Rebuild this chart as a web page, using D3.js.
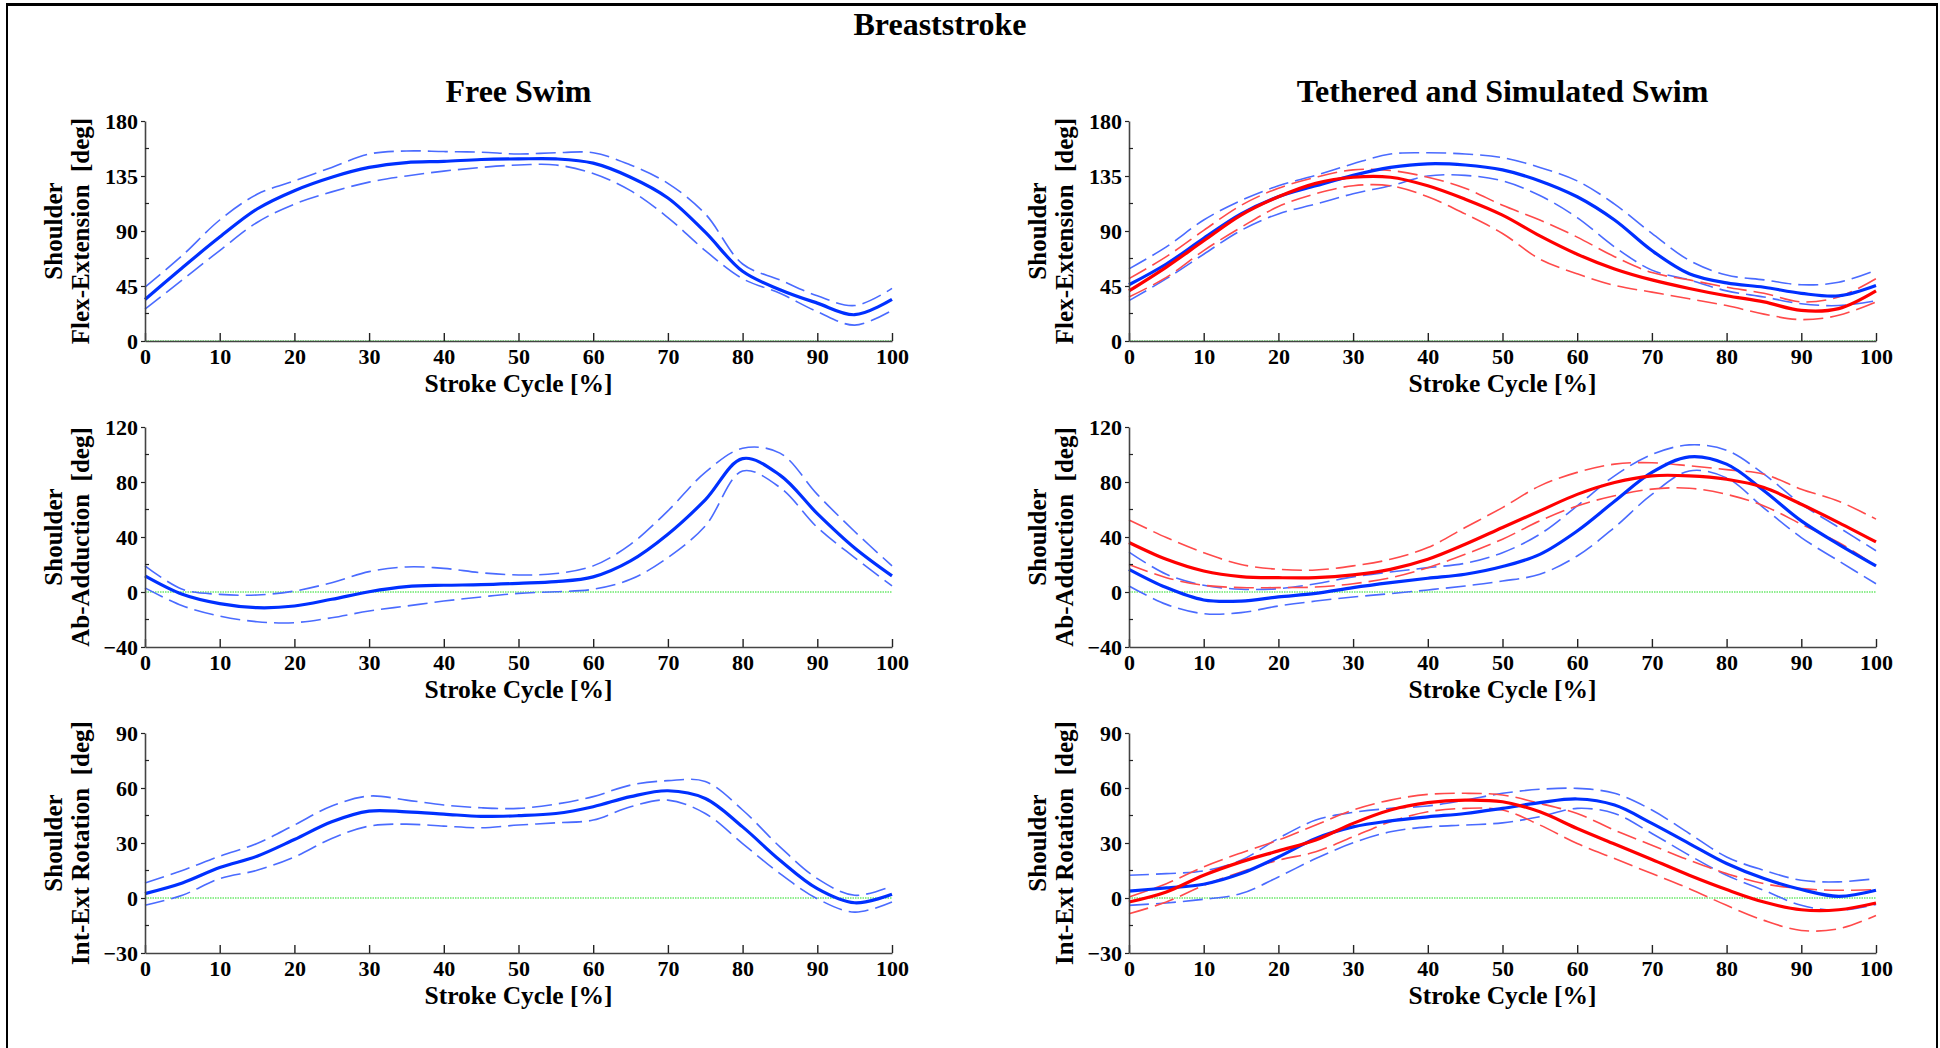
<!DOCTYPE html>
<html>
<head>
<meta charset="utf-8">
<script src="https://cdn.jsdelivr.net/npm/d3@7"></script>
<style>
  html, body { margin: 0; padding: 0; background: #fff; }
  svg text { font-family: "Liberation Serif", "Times New Roman", serif; font-weight: bold; fill: #000; }
</style>
</head>
<body>
<svg id="fig" width="1940" height="1048"></svg>
<script>
// Stroke cycle sampling points [%]
const cycle = [0, 5, 10, 15, 20, 25, 30, 35, 40, 45, 50, 55, 60, 65, 70, 75, 80, 85, 90, 95, 100];

// Axis ticks
const xTicks = [0, 10, 20, 30, 40, 50, 60, 70, 80, 90, 100];
const flexTicks = [0, 45, 90, 135, 180];
const abdTicks = [-40, 0, 40, 80, 120];
const rotTicks = [-30, 0, 30, 60, 90];

// Titles and labels
const mainTitle = "Breaststroke";
const columnTitles = ["Free Swim", "Tethered and Simulated Swim"];
const xLabel = "Stroke Cycle [%]";
const yLabelTop = "Shoulder";
const yLabels = ["Flex-Extension  [deg]", "Ab-Adduction  [deg]", "Int-Ext Rotation  [deg]"];

// Free swim – flexion/extension (mean, mean ± SD)
const freeFlexMean  = [34, 60, 85, 108, 123, 134, 142, 146, 147, 148.5, 149, 149, 145.5, 134, 117, 89, 57, 42, 31, 21.5, 34];
const freeFlexUpper = [44, 70, 99, 120, 131, 142, 153, 155.5, 155, 154.5, 153, 154, 154, 144, 129, 104, 63, 50, 37, 29, 43];
const freeFlexLower = [26, 50, 74, 97, 112, 122, 130, 135, 139, 142, 144, 144, 137, 123, 101, 74, 51, 39, 24, 13, 25];

// Tethered (blue) and simulated (red) – flexion/extension
const tethFlexMean  = [46, 63, 84, 104, 118, 127, 135.5, 142, 145, 144, 140, 131, 118, 99, 74, 55, 47.5, 44, 39, 37, 45.5];
const tethFlexUpper = [59, 77, 99, 115, 127, 135.5, 145, 153, 154, 153, 150, 142, 131, 112, 88, 66, 54, 50, 46, 48, 58];
const tethFlexLower = [33, 51, 71, 90.5, 104, 112, 120.5, 127, 135, 135.5, 131, 119, 101, 77, 58, 50, 41, 36, 30.5, 29, 33];
const simFlexMean   = [41, 60.5, 82, 103, 118, 129, 134, 134, 127, 116, 103, 86, 71, 59, 50, 43, 37, 32, 25, 26.5, 41];
const simFlexUpper  = [51, 69, 90.5, 111, 125, 134, 140, 139.5, 134, 125, 111, 99, 85, 69, 56, 50, 44, 39, 32, 36, 51];
const simFlexLower  = [36, 52, 74, 93, 110, 120.5, 127, 127, 118, 104, 88, 67, 55, 45.5, 40, 34.5, 29, 22, 17.5, 21, 32];

// Free swim – abduction/adduction
const freeAbdMean  = [11.7, -1.7, -8.5, -11.4, -10.2, -5.3, 0.2, 3.9, 4.9, 5.3, 6.3, 7.5, 11, 22.6, 42, 67, 97, 85, 57, 32, 11.7];
const freeAbdUpper = [19, 2, -1.7, -2.2, 0.7, 6.8, 14.8, 18.2, 17.2, 14, 12.4, 13.4, 19, 34.7, 59, 87, 104.5, 101, 71, 44, 19];
const freeAbdLower = [3, -10, -17.5, -21.6, -22.3, -18.7, -13.8, -10.2, -6.6, -3.6, -1, 0.2, 2, 9.2, 25, 48, 88, 76, 47, 25, 4.4];

// Tethered (blue) and simulated (red) – abduction/adduction
const tethAbdMean  = [16.5, 3.2, -5.8, -6.6, -3.6, -1, 3.2, 6.8, 10, 12.9, 18.5, 27.4, 44.4, 66, 87, 98.3, 93, 73.6, 51.7, 34.7, 19];
const tethAbdUpper = [29, 12.9, 4.9, 2, 2.4, 6, 11, 14.6, 17.7, 20.9, 28.6, 42, 62.6, 84.5, 100, 107, 103, 85.7, 64, 47, 30];
const tethAbdLower = [4.4, -9, -15.8, -15, -10.2, -6.6, -3.6, -1.2, 1.5, 4.4, 8, 12.9, 26.2, 47, 71, 88, 83, 61, 39.6, 22.6, 6];
const simAbdMean   = [36, 23.8, 15.3, 11.2, 10.4, 10.4, 12.4, 16.5, 23.8, 34.7, 46.9, 59, 71, 79.6, 84.5, 84.5, 82, 76, 63.8, 50.5, 36.4];
const simAbdUpper  = [52.4, 39.6, 28.6, 20, 16.5, 16, 19, 23.8, 32.3, 46.9, 61.4, 77.2, 87, 93, 94, 91.8, 89, 85.7, 74.8, 66, 53];
const simAbdLower  = [20, 10.4, 4.9, 3.2, 3.2, 3.6, 6, 10.4, 17.7, 27.4, 38.4, 51.7, 62.6, 70, 74.8, 75.5, 71, 62.6, 49.3, 36, 19];

// Free swim – internal/external rotation
const freeRotMean  = [2.4, 8.2, 16.6, 22.8, 31.9, 41.6, 47.4, 47, 45.8, 44.5, 44.9, 46.1, 49.8, 55.3, 58.5, 54.3, 38.8, 20.6, 5.1, -2.6, 2];
const freeRotUpper = [8.2, 15, 22.8, 29.7, 39.8, 50.2, 55.6, 53.4, 50.7, 49.2, 48.9, 51.2, 55.3, 61.6, 64, 63.5, 48, 27.9, 10.6, 1.5, 6.6];
const freeRotLower = [-4, 1.5, 10.6, 15.1, 22.4, 32.5, 39.2, 40.3, 39.2, 38.3, 39.8, 41, 42.5, 49.8, 53.4, 46.1, 29.7, 13.3, -0.4, -7.7, -2.2];

// Tethered (blue) and simulated (red) – internal/external rotation
const tethRotMean  = [3.8, 5.5, 7.5, 13.3, 22.4, 32.5, 38.8, 42.1, 44.3, 46.1, 48.9, 52, 54, 50.7, 40.7, 29.7, 18.8, 10.6, 4.6, 0.9, 4.2];
const tethRotUpper = [12.4, 13.3, 14.8, 20.6, 32.5, 42.5, 46.7, 48.9, 50.2, 53.4, 57.1, 59.3, 59.8, 57.1, 48, 35.2, 22.4, 15.1, 9.7, 8.8, 10.6];
const tethRotLower = [-4, -2.7, -0.7, 2.4, 11.5, 21.5, 30.1, 36.1, 38.8, 39.8, 41, 44.3, 48.9, 46.1, 35.2, 23.3, 12.4, 4.2, -4, -6.7, -3.5];
const simRotMean   = [-2.2, 3.3, 12.4, 19.7, 25.7, 31.6, 40.7, 48, 52, 53.4, 52.5, 47, 37.9, 29.4, 21, 12.4, 4.6, -2.2, -6.4, -6.4, -2.7];
const simRotUpper  = [0.5, 7.8, 17, 24.6, 31.6, 39.8, 48, 53.4, 56.5, 57.1, 56.2, 51.6, 46.1, 37, 28.8, 20.6, 13.3, 7.8, 5.1, 4.2, 4.6];
const simRotLower  = [-8.6, -2.2, 6.9, 14.2, 20.6, 25.2, 33.4, 41.6, 47, 48.9, 48, 39.8, 29.7, 21.5, 13.3, 5.1, -4, -12.2, -17.7, -16.8, -9.5];

// Styles for each group
const BLUE = { mean: "#0030ff", band: "#4a6bff" };
const RED  = { mean: "#ff0000", band: "#ff4a4a" };

// Panel layout: plot-area rectangles
const colX = [145, 1129];
const rowY = [121, 427, 733];
const plotW = 747, plotH = 220;

const panels = [
  { col: 0, row: 0, ticks: flexTicks, label: 0, groups: [{ s: BLUE, m: freeFlexMean, u: freeFlexUpper, l: freeFlexLower }] },
  { col: 1, row: 0, ticks: flexTicks, label: 0, groups: [
      { s: BLUE, m: tethFlexMean, u: tethFlexUpper, l: tethFlexLower },
      { s: RED,  m: simFlexMean,  u: simFlexUpper,  l: simFlexLower } ] },
  { col: 0, row: 1, ticks: abdTicks, label: 1, groups: [{ s: BLUE, m: freeAbdMean, u: freeAbdUpper, l: freeAbdLower }] },
  { col: 1, row: 1, ticks: abdTicks, label: 1, groups: [
      { s: BLUE, m: tethAbdMean, u: tethAbdUpper, l: tethAbdLower },
      { s: RED,  m: simAbdMean,  u: simAbdUpper,  l: simAbdLower } ] },
  { col: 0, row: 2, ticks: rotTicks, label: 2, groups: [{ s: BLUE, m: freeRotMean, u: freeRotUpper, l: freeRotLower }] },
  { col: 1, row: 2, ticks: rotTicks, label: 2, groups: [
      { s: BLUE, m: tethRotMean, u: tethRotUpper, l: tethRotLower },
      { s: RED,  m: simRotMean,  u: simRotUpper,  l: simRotLower } ] }
];

const svg = d3.select("#fig");
const serif = '"Liberation Serif", "Times New Roman", serif';

// Figure frame
const frame = svg.append("g").attr("stroke", "#000").attr("fill", "none");
frame.append("line").attr("x1", 6).attr("x2", 1938).attr("y1", 4.5).attr("y2", 4.5).attr("stroke-width", 3);
frame.append("line").attr("x1", 7).attr("x2", 7).attr("y1", 3).attr("y2", 1048).attr("stroke-width", 2);
frame.append("line").attr("x1", 1937).attr("x2", 1937).attr("y1", 3).attr("y2", 1048).attr("stroke-width", 2);

svg.append("text").attr("x", 940).attr("y", 35).attr("text-anchor", "middle")
  .style("font-size", "32px").text(mainTitle);

columnTitles.forEach((t, i) => {
  svg.append("text").attr("x", colX[i] + plotW / 2).attr("y", 102).attr("text-anchor", "middle")
    .style("font-size", "32px").text(t);
});

panels.forEach(p => {
  const x0 = colX[p.col], y0 = rowY[p.row];
  const g = svg.append("g").attr("transform", `translate(${x0},${y0})`);
  const x = d3.scaleLinear().domain([0, 100]).range([0, plotW]);
  const y = d3.scaleLinear().domain([p.ticks[0], p.ticks[p.ticks.length - 1]]).range([plotH, 0]);

  // zero reference line
  g.append("line").attr("x1", x(0)).attr("x2", x(100)).attr("y1", y(0)).attr("y2", y(0))
    .attr("stroke", "#22dd22").attr("stroke-width", 1.2).attr("stroke-dasharray", "1.5,1");

  // curves: dashed mean ± SD, then solid mean on top
  const line = d3.line().x((d, i) => x(cycle[i])).y(d => y(d)).curve(d3.curveCatmullRom.alpha(0.5));
  p.groups.forEach(gr => {
    [gr.u, gr.l].forEach(arr => {
      g.append("path").attr("d", line(arr)).attr("fill", "none")
        .attr("stroke", gr.s.band).attr("stroke-width", 1.6).attr("stroke-dasharray", "20,7");
    });
  });
  p.groups.forEach(gr => {
    g.append("path").attr("d", line(gr.m)).attr("fill", "none")
      .attr("stroke", gr.s.mean).attr("stroke-width", 3.2);
  });

  // x axis: ticks pointing inward
  const xa = g.append("g").attr("transform", `translate(0,${plotH})`)
    .call(d3.axisBottom(x).tickValues(xTicks).tickSizeInner(-8).tickSizeOuter(0).tickPadding(7));
  xa.select(".domain").attr("stroke", "#444").attr("stroke-width", 1.6);
  xa.selectAll(".tick line").attr("stroke", "#222").attr("stroke-width", 1.4);
  xa.selectAll(".tick text").style("font-size", "22px")
    .style("font-family", serif).style("font-weight", "bold");

  // y axis: labelled ticks outward, minor ticks inward
  const ya = g.append("g")
    .call(d3.axisLeft(y).tickValues(p.ticks).tickSizeInner(4).tickSizeOuter(0).tickPadding(3));
  ya.select(".domain").attr("stroke", "#444").attr("stroke-width", 1.6);
  ya.selectAll(".tick line").attr("stroke", "#222").attr("stroke-width", 1.2);
  ya.selectAll(".tick text").style("font-size", "22px")
    .style("font-family", serif).style("font-weight", "bold");
  const minor = p.ticks.slice(1).map((t, i) => (t + p.ticks[i]) / 2);
  g.selectAll(".minor").data(minor).enter().append("line")
    .attr("x1", 0).attr("x2", 4).attr("y1", d => y(d)).attr("y2", d => y(d))
    .attr("stroke", "#222").attr("stroke-width", 1.2);

  // axis titles
  g.append("text").attr("x", plotW / 2).attr("y", plotH + 51).attr("text-anchor", "middle")
    .style("font-size", "25.5px").text(xLabel);
  const yl = g.append("text").attr("transform", `translate(-83,${plotH / 2}) rotate(-90)`)
    .attr("text-anchor", "middle").style("font-size", "25px").style("white-space", "pre");
  yl.append("tspan").attr("x", 0).attr("y", 0).text(yLabelTop);
  yl.append("tspan").attr("x", 0).attr("y", 27).text(yLabels[p.label]);
});
</script>
</body>
</html>
